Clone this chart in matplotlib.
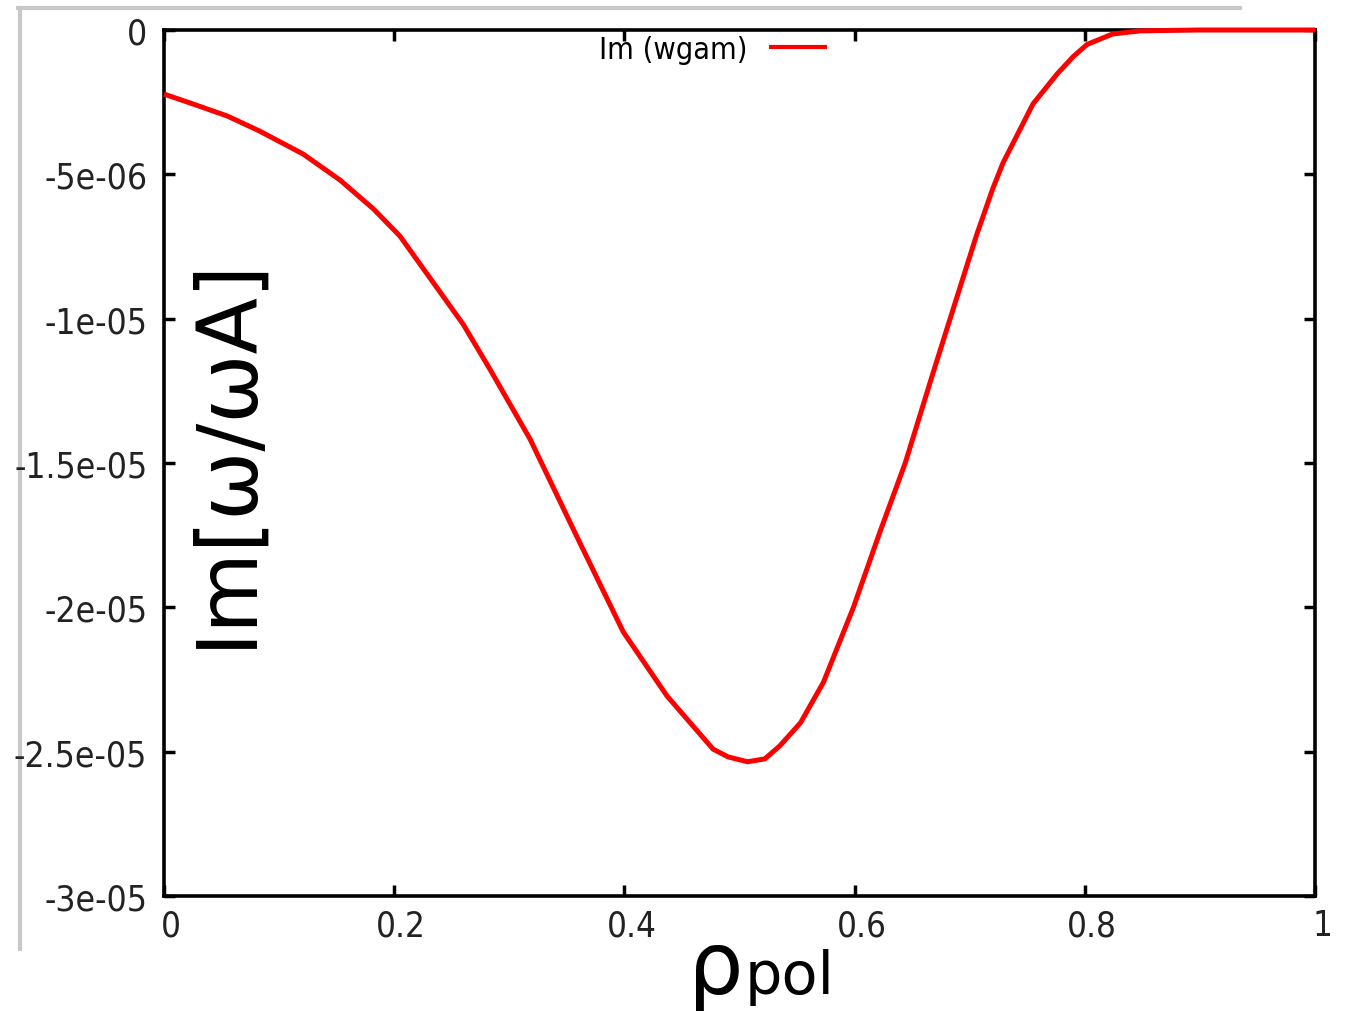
import numpy as np
import matplotlib
matplotlib.use("Agg")
import matplotlib.pyplot as plt
from matplotlib.lines import Line2D
from matplotlib.transforms import ScaledTranslation

# values (rho_pol, Im[w/wA] in units of 1e-6)
rho = [0.0, 0.025, 0.055, 0.083, 0.121, 0.153, 0.182, 0.205, 0.26, 0.283,
       0.318, 0.361, 0.399, 0.437, 0.477, 0.49, 0.507, 0.522, 0.535, 0.553,
       0.573, 0.599, 0.622, 0.644, 0.668, 0.683, 0.706, 0.72, 0.729, 0.755,
       0.776, 0.79, 0.802, 0.824, 0.848, 0.9, 1.0]
im_w = [-2.22, -2.56, -2.98, -3.5, -4.3, -5.2, -6.2, -7.14, -10.2, -11.74,
        -14.17, -17.74, -20.85, -23.07, -24.91, -25.18, -25.35, -25.25, -24.8, -24.0,
        -22.59, -20.0, -17.39, -15.0, -11.9, -10.0, -7.1, -5.5, -4.6, -2.56,
        -1.52, -0.92, -0.5, -0.14, -0.03, 0.0, 0.0]
im_w = [v * 1e-6 for v in im_w]

xticks = [0, 0.2, 0.4, 0.6, 0.8, 1]
xlabels = ["0", "0.2", "0.4", "0.6", "0.8", "1"]
yticks = [0, -5e-6, -1e-5, -1.5e-5, -2e-5, -2.5e-5, -3e-5]
ylabels = ["0", "-5e-06", "-1e-05", "-1.5e-05", "-2e-05", "-2.5e-05", "-3e-05"]

tick_font = "DejaVu Sans"

fig = plt.figure(figsize=(13.5, 10.12), dpi=100)
ax = fig.add_axes([164 / 1350, 1 - 897 / 1012, 1151 / 1350, 866 / 1012])

ax.plot(rho, im_w, color="#ff0000", lw=3.6, label="Im (wgam)",
        clip_on=False, zorder=5, solid_capstyle="butt")

ax.set_xlim(0, 1)
ax.set_ylim(-3e-5, 0)
ax.set_xticks(xticks)
ax.set_xticklabels(xlabels, fontfamily=tick_font, fontsize=25,
                   fontstretch="condensed", color="#222222")
ax.set_yticks(yticks)
ax.set_yticklabels(ylabels, fontfamily=tick_font, fontsize=25.5,
                   fontstretch="condensed", color="#222222")
ax.tick_params(direction="in", length=8, width=2.5, top=True, right=True,
               pad=9)
ax.tick_params(axis="y", pad=12)
for s in ax.spines.values():
    s.set_linewidth(2.6)

# gnuplot puts x labels slightly right of the ticks
for lab in ax.get_xticklabels():
    lab.set_transform(lab.get_transform() + ScaledTranslation(0.07, 0, fig.dpi_scale_trans))

leg = ax.legend(loc="center", bbox_to_anchor=(0.477, 0.978), frameon=False,
                markerfirst=False, handlelength=1.9, handletextpad=0.7,
                borderpad=0.2,
                prop={"family": tick_font, "size": 22, "stretch": "condensed"})
for h in leg.get_lines():
    h.set_linewidth(3)

# big axis labels
ax.text(0.054, 0.514, "Im[ω/ωA]", transform=ax.transAxes, rotation=90,
        ha="center", va="center", fontsize=59.5, family="DejaVu Sans")
fig.text(688 / 1350, 1 - 994 / 1012, "ρ", fontsize=63, ha="left", va="baseline")
fig.text(745 / 1350, 1 - 994 / 1012, "pol", fontsize=42.5, ha="left", va="baseline")

# grey window frame of the screenshot (behind everything)
fig.add_artist(Line2D([18 / 1350, 1240 / 1350], [1 - 9 / 1012, 1 - 9 / 1012],
                      color="#c8c8c8", lw=3, zorder=-1))
fig.add_artist(Line2D([19.5 / 1350, 19.5 / 1350], [1 - 9 / 1012, 1 - 950 / 1012],
                      color="#c8c8c8", lw=3, zorder=-1))

fig.savefig("out.png", dpi=100)
